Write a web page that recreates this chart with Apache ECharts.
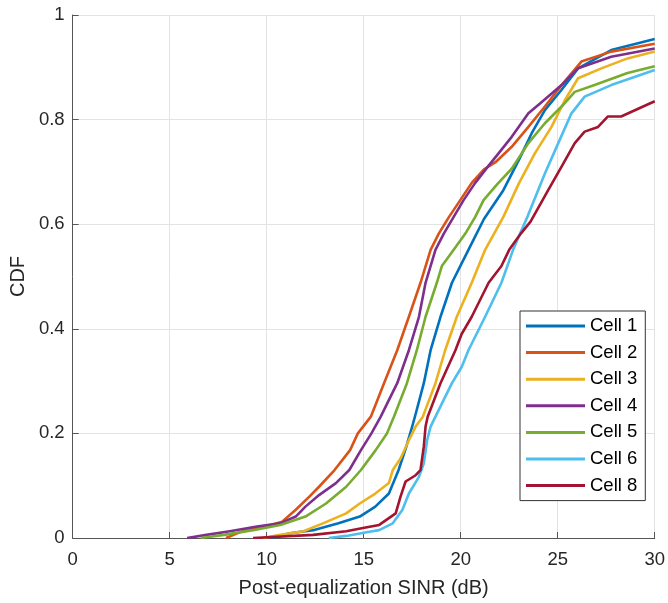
<!DOCTYPE html>
<html>
<head>
<meta charset="utf-8">
<script src="https://cdn.jsdelivr.net/npm/echarts@6/dist/echarts.min.js"></script>
<style>
html,body{margin:0;padding:0;background:#fff;}
#chart{width:668px;height:603px;}
</style>
</head>
<body>
<div id="chart"></div>
<script>
var seriesNames = ['Cell 1','Cell 2','Cell 3','Cell 4','Cell 5','Cell 6','Cell 8'];
var seriesColors = ['#0072BD','#D95319','#EDB120','#7E2F8E','#77AC30','#4DBEEE','#A2142F'];
var xTicks = [0,5,10,15,20,25,30];
var yTicks = [0,0.2,0.4,0.6,0.8,1];

var cell1 = [[10.3,0],[11.2,0.009],[12.4,0.015],[13.7,0.028],[14.8,0.041],[15.6,0.06],[16.3,0.085],[16.8,0.13],[17.2,0.175],[17.5,0.213],[17.7,0.24],[18.1,0.296],[18.45,0.359],[18.96,0.423],[19.55,0.488],[20.4,0.551],[21.2,0.61],[22.2,0.665],[23.0,0.723],[23.66,0.774],[24.34,0.818],[25.2,0.857],[26.05,0.898],[27.76,0.933],[30,0.954]];
var cell2 = [[7.9,0],[8.3,0.006],[9.0,0.017],[10.0,0.023],[10.8,0.031],[11.5,0.054],[12.2,0.079],[12.7,0.098],[13.5,0.13],[14.3,0.168],[14.7,0.2],[15.37,0.232],[16.05,0.296],[16.73,0.359],[17.33,0.423],[17.93,0.488],[18.45,0.551],[18.87,0.582],[19.4,0.614],[19.98,0.646],[20.57,0.679],[21.2,0.705],[21.78,0.718],[22.63,0.748],[23.49,0.786],[24.34,0.825],[25.2,0.866],[26.22,0.911],[27.76,0.93],[30,0.945]];
var cell3 = [[9.8,0],[10.7,0.006],[11.9,0.013],[12.9,0.028],[14.1,0.047],[14.8,0.066],[15.6,0.085],[16.3,0.105],[16.5,0.13],[16.9,0.152],[17.33,0.187],[17.68,0.213],[18.05,0.232],[18.7,0.296],[19.2,0.359],[19.8,0.423],[20.57,0.488],[21.26,0.551],[22.2,0.614],[23.0,0.678],[23.83,0.736],[24.68,0.786],[25.37,0.837],[26.05,0.879],[27.25,0.898],[28.6,0.917],[30,0.93]];
var cell4 = [[5.9,0],[6.9,0.006],[8.1,0.013],[9.5,0.022],[10.7,0.028],[11.5,0.041],[12.0,0.06],[12.7,0.082],[13.57,0.105],[14.26,0.13],[14.86,0.168],[15.4,0.2],[15.88,0.232],[16.73,0.296],[17.33,0.359],[17.85,0.423],[18.19,0.488],[18.7,0.551],[19.13,0.582],[19.64,0.614],[20.15,0.646],[20.75,0.679],[21.4,0.71],[21.9,0.733],[22.63,0.767],[23.49,0.812],[24.09,0.831],[25.2,0.866],[26.05,0.898],[27.76,0.92],[30,0.936]];
var cell5 = [[6.6,0],[7.8,0.006],[9.3,0.015],[10.7,0.025],[12.0,0.041],[13.06,0.066],[14.1,0.098],[14.86,0.13],[15.62,0.168],[16.2,0.2],[16.56,0.232],[17.23,0.296],[17.74,0.359],[18.19,0.423],[18.77,0.488],[19.03,0.52],[19.64,0.551],[20.24,0.582],[20.75,0.614],[21.18,0.646],[21.9,0.677],[22.63,0.706],[23.49,0.755],[24.34,0.793],[25.2,0.825],[25.88,0.853],[26.9,0.866],[28.6,0.889],[30,0.902]];
var cell6 = [[13.2,0],[14.1,0.004],[15.3,0.012],[15.8,0.015],[16.5,0.028],[17.0,0.054],[17.33,0.085],[17.85,0.117],[18.1,0.143],[18.27,0.187],[18.45,0.213],[18.7,0.232],[19.55,0.296],[20.05,0.327],[20.4,0.359],[21.26,0.423],[22.1,0.488],[22.7,0.551],[23.06,0.582],[23.45,0.615],[24.34,0.697],[25.03,0.755],[25.71,0.812],[26.39,0.844],[27.76,0.866],[30,0.895]];
var cell8 = [[9.3,0],[12.4,0.006],[14.1,0.013],[15.1,0.02],[15.8,0.025],[16.3,0.038],[16.65,0.047],[16.9,0.079],[17.16,0.108],[17.68,0.12],[17.93,0.13],[18.1,0.175],[18.19,0.213],[18.3,0.232],[18.96,0.296],[19.73,0.359],[20.05,0.39],[20.57,0.423],[21.44,0.488],[22.1,0.52],[22.5,0.551],[23.1,0.582],[23.6,0.605],[24.51,0.665],[25.2,0.71],[25.88,0.755],[26.39,0.777],[27.08,0.786],[27.59,0.806],[28.27,0.806],[30,0.835]];

var seriesData = [cell1, cell2, cell3, cell4, cell5, cell6, cell8];

var FONT = '"Liberation Sans", Arial, Helvetica, sans-serif';
var chart = echarts.init(document.getElementById('chart'), null, {renderer:'canvas'});

var series = seriesNames.map(function(n, i){
  return {
    name: n,
    type: 'line',
    data: seriesData[i],
    showSymbol: false,
    symbol: 'none',
    animation: false,
    lineStyle: {width: 2.6, color: seriesColors[i], join: 'round'},
    itemStyle: {color: seriesColors[i]}
  };
});

chart.setOption({
  animation: false,
  backgroundColor: '#fff',
  grid: {left: 72, right: 11, top: 15, bottom: 65, containLabel: false},
  xAxis: {
    type: 'value', min: 0, max: 30, interval: 5,
    name: 'Post-equalization SINR (dB)', nameLocation: 'middle', nameGap: 40,
    nameTextStyle: {fontSize: 20, color: '#262626', fontFamily: FONT},
    axisLine: {show: true, onZero: false, lineStyle: {color: '#555', width: 1}},
    axisTick: {show: true, inside: true, length: 6, lineStyle: {color: '#555'}},
    axisLabel: {fontSize: 18.5, color: '#262626', fontFamily: FONT, margin: 12,
      formatter: function(v){ return xTicks.indexOf(v) >= 0 ? String(v) : ''; }},
    splitLine: {show: true, lineStyle: {color: '#e3e3e3', width: 1}}
  },
  yAxis: {
    type: 'value', min: 0, max: 1, interval: 0.2,
    name: 'CDF', nameLocation: 'middle', nameGap: 44, nameRotate: 90,
    nameTextStyle: {fontSize: 20, color: '#262626', fontFamily: FONT},
    axisLine: {show: true, onZero: false, lineStyle: {color: '#555', width: 1}},
    axisTick: {show: true, inside: true, length: 6, lineStyle: {color: '#555'}},
    axisLabel: {fontSize: 18.5, color: '#262626', fontFamily: FONT, margin: 8,
      formatter: function(v){ var r = Math.round(v*10)/10; return (r===0||r===1) ? String(r) : r.toFixed(1); }},
    splitLine: {show: true, lineStyle: {color: '#e3e3e3', width: 1}}
  },
  legend: {
    orient: 'vertical', left: 520, top: 311,
    data: seriesNames,
    icon: 'rect', itemWidth: 59, itemHeight: 3, itemGap: 6.6,
    padding: [5, 8, 5, 6],
    borderColor: '#333', borderWidth: 1, backgroundColor: '#fff',
    textStyle: {fontSize: 18.5, color: '#000', fontFamily: FONT, lineHeight: 20},
    selectedMode: false
  },
  series: series
});
</script>
</body>
</html>
